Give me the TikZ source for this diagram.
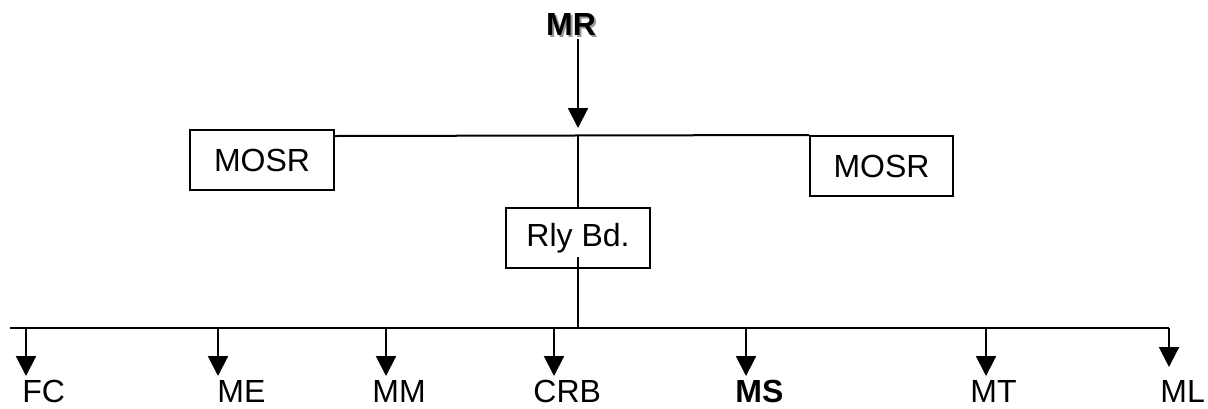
\documentclass[tikz,border=0pt]{standalone}
\usepackage{fontspec}
\setmainfont{Liberation Sans}
\usetikzlibrary{arrows.meta}
\begin{document}
\begin{tikzpicture}[x=0.5pt,y=-0.5pt,
  txt/.style={font=\fontsize{16}{19}\selectfont, inner sep=0pt},
  box/.style={draw, line width=1pt, minimum width=72pt, minimum height=30pt, inner sep=0pt, font=\fontsize{16}{19}\selectfont},
  ln/.style={line width=1pt},
  arr/.style={line width=1pt, -{Triangle[width=10pt,length=10pt]}, shorten >=0pt}]
\useasboundingbox (0,0) rectangle (1208,408);
% top
\node[txt, anchor=base, text=black!40] at (573,37) {\bfseries MR};
\node[txt, anchor=base] (MR) at (571,35) {\bfseries MR};
\coordinate (mrtip) at (578,128);
\coordinate (jtop) at (578,136);
\draw[arr] (MR.south -| mrtip) ++(0,4) -- (mrtip);
% boxes
\node[box, minimum width=72pt] (mosrL) at (262,160) {MOSR};
\node[box, minimum width=71.5pt] (mosrR) at (881.5,166) {MOSR};
\node[box] (rly) at (578,238) {Rly Bd.};
\draw[ln] (mosrL.east |- jtop) -- (mosrR.north west);
\draw[ln] (jtop) -- (rly.north);
\coordinate (rlyin) at (578,257);
\coordinate (jbot) at (578,328);
\draw[ln] (rlyin) -- (jbot);
% bus
\coordinate (busL) at (10,328);
\coordinate (busR) at (1169,328);
\draw[ln] (busL) -- (busR);
% labels
\node[txt, anchor=base west] (FC) at (22,402) {FC};
\node[txt, anchor=base west] (ME) at (217,402) {ME};
\node[txt, anchor=base west] (MM) at (372,402) {MM};
\node[txt, anchor=base west] (CRB) at (533,402) {CRB};
\node[txt, anchor=base west] (MS) at (735,402) {\bfseries MS};
\node[txt, anchor=base west] (MT) at (970,402) {MT};
\node[txt, anchor=base west] (ML) at (1160,402) {ML};
% arrow tips
\coordinate (tFC) at (26,376);
\coordinate (tME) at (218,376);
\coordinate (tMM) at (386,376);
\coordinate (tCRB) at (554,376);
\coordinate (tMS) at (746,376);
\coordinate (tMT) at (986,376);
\coordinate (tML) at (1169,367);
\foreach \t in {tFC,tME,tMM,tCRB,tMS,tMT,tML}
  \draw[arr] (\t |- busL) -- (\t);
\end{tikzpicture}
\end{document}
